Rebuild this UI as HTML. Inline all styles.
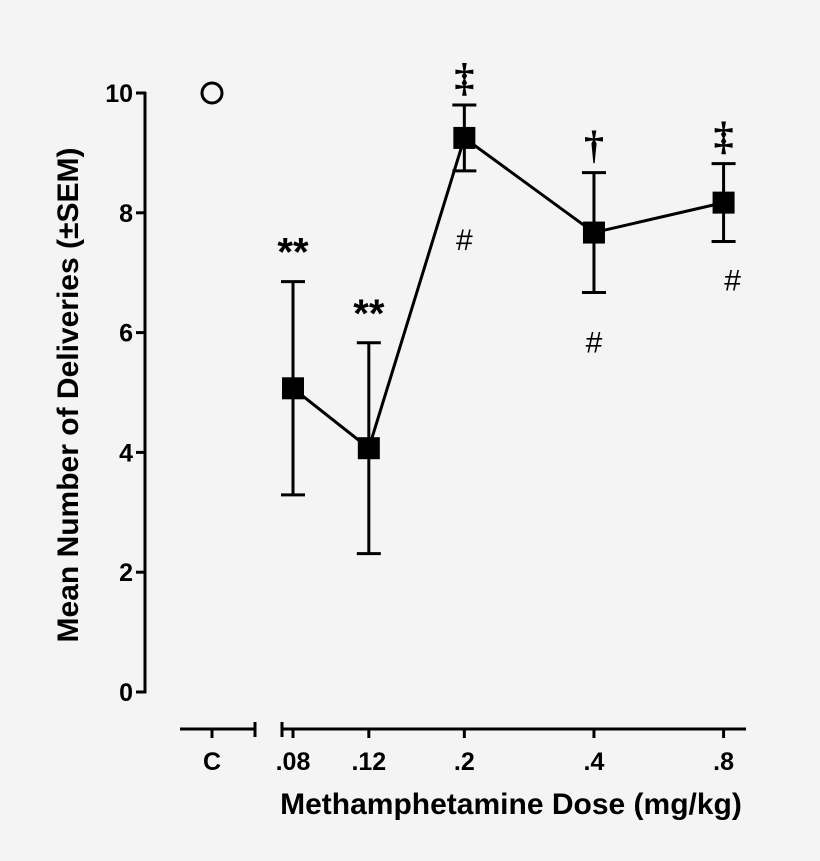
<!DOCTYPE html>
<html><head><meta charset="utf-8"><style>
html,body{margin:0;padding:0;background:#f4f4f4;}
svg{display:block;font-family:"Liberation Sans",Arial,sans-serif;font-weight:bold;}
</style></head><body>
<svg id="chart" width="820" height="861" viewBox="0 0 820 861">
<rect width="820" height="861" fill="#f4f4f4"/>
<g id="axes"></g>
<g id="marks"></g>
<text x="0" y="0" transform="translate(78,395) rotate(-90)" text-anchor="middle" font-size="30" fill="#000">Mean Number of Deliveries (±SEM)</text>
<text x="511" y="814" text-anchor="middle" font-size="30" fill="#000">Methamphetamine Dose (mg/kg)</text>
</svg>
<script>
const doses = [0.08, 0.12, 0.2, 0.4, 0.8];
const doseLabels = [".08", ".12", ".2", ".4", ".8"];
const means = [5.07, 4.07, 9.25, 7.67, 8.17];
const sems = [1.78, 1.76, 0.55, 1.0, 0.65];
const controlMean = 10;
const yTicks = [0, 2, 4, 6, 8, 10];
const topMarks = ["**", "**", "‡", "†", "‡"];
const hashMarks = [false, false, true, true, true];

const NS = "http://www.w3.org/2000/svg";
const yScale = v => 692 - v * 59.9;
const xScale = d => 293 + 187 * (Math.log(d) - Math.log(0.08));
const xControl = 212;
function mk(tag, attrs, parent) {
  const e = document.createElementNS(NS, tag);
  for (const k in attrs) e.setAttribute(k, attrs[k]);
  parent.appendChild(e);
  return e;
}
const axes = document.getElementById("axes");
const marks = document.getElementById("marks");

let yl = mk("line", {x1:145, y1:yScale(10)-1, x2:145, y2:yScale(0)+1.5, stroke:"#000","stroke-width":3}, axes);


yTicks.forEach(v => {
  const t = mk("line", {x1:136, y1:yScale(v), x2:146, y2:yScale(v), stroke:"#000","stroke-width":3}, axes);
  
  
  const l = mk("text", {x:133, y:yScale(v)+9, "text-anchor":"end", "font-size":25}, axes);
  l.textContent = v;
  
  
});
const xa = 729;
let s1 = mk("path", {d:`M180 ${xa} H255 M255 ${xa-7} V${xa+8}`, stroke:"#000","stroke-width":3, fill:"none"}, axes);


let s2 = mk("path", {d:`M282 ${xa-7} V${xa+8} M282 ${xa} H746`, stroke:"#000","stroke-width":3, fill:"none"}, axes);


const xt = [{x:xControl, l:"C"}].concat(doses.map((d,i)=>({x:xScale(d), l:doseLabels[i]})));
xt.forEach(o => {
  const t = mk("line", {x1:o.x, y1:xa, x2:o.x, y2:xa+9, stroke:"#000","stroke-width":3}, axes);
  
  
  const l = mk("text", {x:o.x, y:xa+41, "text-anchor":"middle", "font-size":25}, axes);
  l.textContent = o.l;
  
  
});

let c = mk("circle", {cx:xControl, cy:yScale(controlMean), r:10, fill:"none", stroke:"#000", "stroke-width":3}, marks);



const pts = doses.map((d,i)=>`${xScale(d)},${yScale(means[i])}`).join(" ");
let pl = mk("polyline", {points:pts, fill:"none", stroke:"#000", "stroke-width":3}, marks);



const hashOffsets = [0, 0, 79, 60, 49];
doses.forEach((d,i) => {
  const x = xScale(d), m = means[i], s = sems[i];
  const hi = yScale(m+s), lo = yScale(m-s);
  const eb = mk("path", {d:`M${x} ${hi} V${lo} M${x-12} ${hi} H${x+12} M${x-12} ${lo} H${x+12}`, stroke:"#000", "stroke-width":3, fill:"none"}, marks);
  
  
  const r = mk("rect", {x:x-11, y:yScale(m)-11, width:22, height:22, fill:"#000"}, marks);
  
  
  const mark = topMarks[i];
  if (mark === "**") {
    const t = mk("text", {x:x, y:hi-16, "text-anchor":"middle", "font-size":40, "font-weight":"bold"}, marks);
    t.textContent = "**";
    
    
  } else {
    const t = mk("text", {x:x, y:hi-14, "text-anchor":"middle", "font-size":40, "font-weight":"bold", "font-family":"Liberation Serif, serif"}, marks);
    t.textContent = mark;
    
    
  }
  if (hashMarks[i]) {
    const hx = i === 4 ? x + 9 : x;
    const h = mk("text", {x:hx, y:lo + hashOffsets[i], "text-anchor":"middle", "font-size":30, "font-weight":"normal"}, marks);
    h.textContent = "#";
    
    
  }
});
</script>
</body></html>
